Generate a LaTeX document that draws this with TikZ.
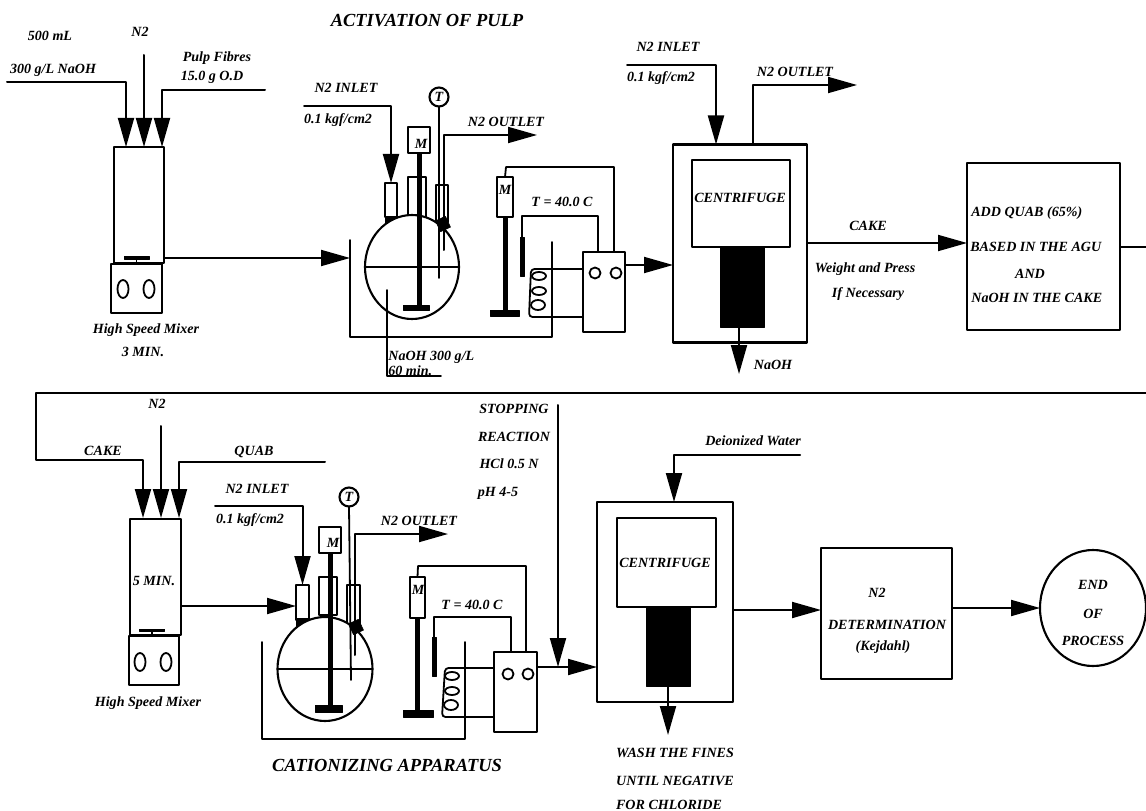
\documentclass[tikz,border=0pt]{standalone}
\usepackage{fontspec}
\setmainfont{Liberation Serif}[BoldItalicFont={Liberation Serif Bold Italic}]
\usetikzlibrary{arrows.meta,shapes.geometric}
\tikzset{
    every picture/.style={line cap=round,line join=round},
    lbl/.style={inner sep=0pt,font=\bfseries\itshape\fontsize{8}{9}\selectfont,align=center},
    biglbl/.style={inner sep=0pt,font=\bfseries\itshape\fontsize{10.5}{11}\selectfont,align=center},
    procbox/.style={draw=black,fill=white,line width=0.42mm,inner sep=0pt,outer sep=0pt},
    solidbox/.style={draw=black,fill=black,line width=0.1mm,inner sep=0pt,outer sep=0pt},
    wheel/.style={draw=black,fill=white,ellipse,line width=0.36mm,inner sep=0pt,
      minimum width=2.2mm,minimum height=3.6mm},
    wire/.style={draw=black,line width=0.36mm},
    shaftline/.style={draw=black,line width=1mm,line cap=butt},
    flowarrow/.style={-{Triangle[length=5.8mm,width=3.2mm]},draw=black,line width=0.4mm}
}
\begin{document}
\begin{tikzpicture}[x=0.2mm,y=-0.2mm]
  \useasboundingbox (0,0) rectangle (1146,811);
  \node[biglbl] (titleA) at (427,21) {ACTIVATION OF PULP};
  \node[lbl] (volA) at (50,36) {500 mL};
  \node[lbl] (nA) at (140,32) {N2};
  \node[lbl] (naohA) at (53,70) {300 g/L NaOH};
  \node[lbl] (pulpA) at (217,58) {Pulp Fibres};
  \node[lbl] (massA) at (212,77) {15.0 g O.D};
  \node[lbl] (hsmA) at (146,330) {High Speed Mixer};
  \node[lbl] (minA) at (143,352) {3 MIN.};

  \node[procbox,minimum width=10mm,minimum height=23.2mm] (mixA) at (139,205) {};
  \node[procbox,minimum width=10.2mm,minimum height=9.8mm] (baseA) at (136.5,288.5) {};
  \node[wheel] (wheelA) at (123,289) {};
  \node[wheel] (wheelB) at (149,289) {};
  \node[solidbox,minimum width=5mm,minimum height=0.6mm] (impA) at (136.5,258) {};
  \draw[wire] (impA) -- (impA |- baseA.north);
  \coordinate (naohAin) at (7,82);
  \coordinate (naohAend) at (126,147);
  \coordinate (nAin) at (144,55);
  \coordinate (nAend) at (144,147);
  \coordinate (pulpAin) at (265,90);
  \coordinate (pulpAend) at (162,147);
  \draw[flowarrow] (naohAin) -| (naohAend);
  \draw[flowarrow] (nAin) -- (nAend);
  \draw[flowarrow] (pulpAin) -| (pulpAend);

  \node[procbox,minimum width=2.4mm,minimum height=6.8mm] (neckAl) at (391,200) {};
  \node[procbox,minimum width=3.6mm,minimum height=8.4mm] (neckAm) at (417,198) {};
  \node[procbox,minimum width=2.4mm,minimum height=7.4mm] (neckAr) at (442,203.5) {};
  \node[solidbox,minimum width=2.4mm,minimum height=2.4mm] (baseAl) at (391,222) {};
  \node[procbox,ellipse,minimum width=18.8mm,minimum height=20.8mm] (flaskA) at (412,267) {};
  \node[solidbox,minimum width=2.2mm,minimum height=2.4mm,rotate=25] (baseAr) at (443,224) {};
  \draw[wire] (flaskA.west) -- (flaskA.east);
  \node[procbox,minimum width=4.4mm,minimum height=5.2mm] (motorA) at (419,140) {};
  \node[lbl] (mA) at (421,144) {M};
  \node[solidbox,minimum width=5.2mm,minimum height=1mm] (footA) at (416,307.5) {};
  \draw[shaftline] (motorA.south) -- (motorA.south |- footA.north);
  \node[procbox,circle,minimum size=3.8mm,font=\bfseries\itshape\fontsize{8}{9}\selectfont] (tA) at (439,97) {T};
  \coordinate (probeA) at (439,278);
  \draw[wire] (tA) -- (probeA);
  \coordinate (ventAin) at (444,250);
  \coordinate (ventAend) at (537,135);
  \draw[flowarrow] (ventAin) |- (ventAend);
  \coordinate (gasAin) at (304,106);
  \draw[flowarrow] (gasAin) -| (neckAl.north);
  \node[lbl] (gasAa) at (346,88) {N2 INLET};
  \node[lbl] (gasAb) at (338,120) {0.1 kgf/cm2};
  \node[lbl] (ventAa) at (506,122) {N2 OUTLET};

  \coordinate (bathA1) at (350,240);
  \coordinate (bathA2) at (350,337);
  \coordinate (bathA3) at (552,337);
  \coordinate (bathA4) at (552,242);
  \draw[wire] (bathA1) -- (bathA2) -- (bathA3) -- (bathA4);
  \coordinate (bathAin) at (350,258);
  \draw[flowarrow] (bathAin -| mixA.east) -- (bathAin);
  \coordinate (liqA1) at (387,290);
  \coordinate (liqA2) at (441,376);
  \draw[wire] (liqA1) |- (liqA2);
  \node[lbl,anchor=west] (liqAa) at (388,357) {NaOH 300 g/L};
  \node[lbl,anchor=west] (liqAb) at (388,371) {60 min.};

  \node[procbox,minimum width=3.2mm,minimum height=8mm] (stirA) at (505,197) {};
  \node[lbl] (mB) at (505,190) {M};
  \node[solidbox,minimum width=5.8mm,minimum height=1.2mm] (standA) at (504.5,313) {};
  \draw[shaftline] (stirA.south) -- (stirA.south |- standA.north);
  \node[procbox,minimum width=8.4mm,minimum height=16mm] (contA) at (604,292) {};
  \node[wheel,minimum height=2.2mm] (dialA) at (595,273) {};
  \node[wheel,minimum height=2.2mm] (dialB) at (616,273) {};
  \coordinate (contAt1) at (598,252);
  \coordinate (contAt2) at (614,252);
  \coordinate (stirAt) at (506,167);
  \draw[wire] (stirA.north) -- (stirAt) -| (contAt2);
  \node[solidbox,minimum width=0.8mm,minimum height=7.8mm] (senseA) at (522,256.5) {};
  \coordinate (senseAt) at (522,216);
  \draw[wire] (senseA.north) -- (senseAt) -| (contAt1);
  \node[lbl] (tempA) at (562,202) {T = 40.0 C};
  \coordinate (coilA1) at (583,269);
  \coordinate (coilA2) at (531,269);
  \coordinate (coilA3) at (529,317);
  \coordinate (coilA4) at (583,317);
  \draw[wire,rounded corners=2pt] (coilA1) -- (coilA2) -- (coilA3) -- (coilA4);
  \node[wheel,minimum width=2.8mm,minimum height=1.6mm] (loopA1) at (539,276) {};
  \node[wheel,minimum width=2.8mm,minimum height=1.6mm] (loopA2) at (539,291) {};
  \node[wheel,minimum width=2.8mm,minimum height=2mm] (loopA3) at (538,305) {};

  \node[procbox,minimum width=26.8mm,minimum height=39.6mm] (cenA) at (740,243.5) {};
  \node[procbox,minimum width=19.6mm,minimum height=17.4mm] (innerA) at (741,203.5) {};
  \node[solidbox,minimum width=8.8mm,minimum height=16mm] (blockA) at (742,287) {};
  \node[lbl] (cenAtxt) at (740,198) {CENTRIFUGE};
  \coordinate (dropAend) at (739,374);
  \draw[flowarrow] (dropAend |- blockA.south) -- (dropAend);
  \node[lbl] (dropAtxt) at (773,365) {NaOH};
  \coordinate (cenAin) at (673,265);
  \draw[flowarrow] (contA.east |- cenAin) -- (cenAin);
  \coordinate (gasBin) at (627,65);
  \coordinate (gasBend) at (716,144.5);
  \coordinate (ventBin) at (753,144.5);
  \coordinate (ventBend) at (857,85);
  \draw[flowarrow] (gasBin) -| (gasBend);
  \draw[flowarrow] (ventBin) |- (ventBend);
  \node[lbl] (gasBa) at (668,47) {N2 INLET};
  \node[lbl] (gasBb) at (661,78) {0.1 kgf/cm2};
  \node[lbl] (ventBa) at (795,72) {N2 OUTLET};

  \node[procbox,minimum width=30.6mm,minimum height=33.4mm] (addbox) at (1043.5,246.5) {};
  \coordinate (cakeout) at (807,243);
  \draw[flowarrow] (cakeout) -- (cakeout -| addbox.west);
  \node[lbl] (cakeA) at (868,226) {CAKE};
  \node[lbl] (weighA) at (865,269) {Weight and Press};
  \node[lbl] (weighB) at (868,294) {If Necessary};
  \node[lbl,anchor=west] (addA) at (971,213) {ADD QUAB (65\%)};
  \node[lbl,anchor=west] (addB) at (970,247) {BASED IN THE AGU};
  \node[lbl] (addC) at (1030,274) {AND};
  \node[lbl,anchor=west] (addD) at (971,298) {NaOH IN THE CAKE};

  \coordinate (loopEast) at (1146,247);
  \coordinate (loopTopE) at (1146,393);
  \coordinate (loopTopW) at (36,393);
  \coordinate (loopLow) at (36,460);
  \coordinate (cakeBend) at (143,518);
  \draw[wire] (addbox.east |- loopEast) -- (loopEast);
  \draw[flowarrow] (loopTopE) -- (loopTopW) -- (loopLow) -| (cakeBend);
  \coordinate (nBin) at (161,426);
  \coordinate (nBend) at (161,518);
  \coordinate (quabin) at (325,462);
  \coordinate (quabend) at (179,518);
  \draw[flowarrow] (nBin) -- (nBend);
  \draw[flowarrow] (quabin) -| (quabend);
  \node[lbl] (nB) at (157,404) {N2};
  \node[lbl] (cakeB) at (103,451) {CAKE};
  \node[lbl] (quabtxt) at (254,452) {QUAB};

  \node[procbox,minimum width=10.2mm,minimum height=23.2mm] (mixB) at (155.5,577) {};
  \node[procbox,minimum width=10mm,minimum height=9.8mm] (baseB) at (154,660.5) {};
  \node[wheel] (wheelC) at (140,662) {};
  \node[wheel] (wheelD) at (166,662) {};
  \node[solidbox,minimum width=5mm,minimum height=0.5mm] (impB) at (152,630) {};
  \draw[wire] (impB) -- (impB |- baseB.north);
  \node[lbl] (minB) at (154,581) {5 MIN.};
  \node[lbl] (hsmB) at (148,703) {High Speed Mixer};

  \node[procbox,minimum width=2.6mm,minimum height=7mm] (neckBl) at (302.5,602.5) {};
  \node[procbox,minimum width=3.6mm,minimum height=7.6mm] (neckBm) at (328,596) {};
  \node[procbox,minimum width=2.6mm,minimum height=8mm] (neckBr) at (353.5,605) {};
  \node[solidbox,minimum width=2.6mm,minimum height=2.4mm] (baseBl) at (302.5,624) {};
  \node[procbox,ellipse,minimum width=19mm,minimum height=20.8mm] (flaskB) at (325,669) {};
  \node[solidbox,minimum width=2.2mm,minimum height=2.4mm,rotate=25] (baseBr) at (356,627) {};
  \draw[wire] (flaskB.west) -- (flaskB.east);
  \node[procbox,minimum width=4.4mm,minimum height=5.2mm] (motorB) at (330,540) {};
  \node[lbl] (mC) at (333,543) {M};
  \node[solidbox,minimum width=5.4mm,minimum height=1.4mm] (footB) at (328.5,708.5) {};
  \draw[shaftline] (motorB.south) -- (motorB.south |- footB.north);
  \node[procbox,circle,minimum size=3.8mm,font=\bfseries\itshape\fontsize{8}{9}\selectfont] (tB) at (349,497) {T};
  \coordinate (probeB) at (351,680);
  \draw[wire] (tB.south) -- (probeB);
  \coordinate (ventCin) at (355,655);
  \coordinate (ventCend) at (448,534);
  \draw[flowarrow] (ventCin) |- (ventCend);
  \coordinate (gasCin) at (215,506);
  \draw[flowarrow] (gasCin) -| (neckBl.north);
  \node[lbl] (gasCa) at (257,489) {N2 INLET};
  \node[lbl] (gasCb) at (250,520) {0.1 kgf/cm2};
  \node[lbl] (ventCa) at (419,521) {N2 OUTLET};
  \coordinate (bathBin) at (296,606);
  \draw[flowarrow] (bathBin -| mixB.east) -- (bathBin);

  \coordinate (bathB1) at (262,642);
  \coordinate (bathB2) at (465,739);
  \coordinate (bathB3) at (465,642);
  \draw[wire] (bathB1) |- (bathB2) -- (bathB3);
  \node[biglbl] (titleB) at (387,765) {CATIONIZING APPARATUS};

  \node[procbox,minimum width=3mm,minimum height=8.2mm] (stirB) at (417.5,597.5) {};
  \node[lbl] (mD) at (418,590) {M};
  \node[solidbox,minimum width=6mm,minimum height=1.4mm] (standB) at (418,713.5) {};
  \draw[shaftline] (stirB.south) -- (stirB.south |- standB.north);
  \node[procbox,minimum width=8.6mm,minimum height=16mm] (contB) at (515.5,692) {};
  \node[wheel,minimum height=2.2mm] (dialC) at (508,674) {};
  \node[wheel,minimum height=2.2mm] (dialD) at (528,674) {};
  \coordinate (contBt1) at (511,652);
  \coordinate (contBt2) at (526,652);
  \coordinate (stirBt) at (418,566);
  \draw[wire] (stirB.north) -- (stirBt) -| (contBt2);
  \node[solidbox,minimum width=0.8mm,minimum height=7.8mm] (senseB) at (434,656.5) {};
  \coordinate (senseBt) at (434,617);
  \draw[wire] (senseB.north) -- (senseBt) -| (contBt1);
  \node[lbl] (tempB) at (472,605) {T = 40.0 C};
  \coordinate (coilB1) at (494,668);
  \coordinate (coilB2) at (445,668);
  \coordinate (coilB3) at (442,717);
  \coordinate (coilB4) at (494,717);
  \draw[wire,rounded corners=2pt] (coilB1) -- (coilB2) -- (coilB3) -- (coilB4);
  \node[wheel,minimum width=2.8mm,minimum height=1.6mm] (loopB1) at (452,676) {};
  \node[wheel,minimum width=2.8mm,minimum height=1.6mm] (loopB2) at (452,691) {};
  \node[wheel,minimum width=2.8mm,minimum height=2mm] (loopB3) at (451,705) {};

  \node[procbox,minimum width=27.2mm,minimum height=40mm] (cenB) at (665,602) {};
  \node[procbox,minimum width=19.8mm,minimum height=17.8mm] (innerB) at (666.5,562.5) {};
  \node[solidbox,minimum width=8.8mm,minimum height=15.8mm] (blockB) at (668,646.5) {};
  \node[lbl] (cenBtxt) at (665,563) {CENTRIFUGE};
  \coordinate (cenBin) at (597,667);
  \draw[flowarrow] (contB.east |- cenBin) -- (cenBin);
  \coordinate (stopin) at (558,405);
  \coordinate (stopend) at (558,667);
  \draw[flowarrow] (stopin) -- (stopend);
  \node[lbl] (stopA) at (514,409) {STOPPING};
  \node[lbl] (stopB) at (514,437) {REACTION};
  \node[lbl] (stopC) at (509,464) {HCl 0.5 N};
  \node[lbl] (stopD) at (498,493) {pH 4-5};
  \coordinate (waterin) at (800,455);
  \coordinate (waterend) at (674,502);
  \draw[flowarrow] (waterin) -| (waterend);
  \node[lbl] (watertxt) at (753,441) {Deionized Water};
  \coordinate (washend) at (668,735);
  \draw[flowarrow] (washend |- blockB.south) -- (washend);
  \node[lbl] (washA) at (675,753) {WASH THE FINES};
  \node[lbl] (washB) at (675,781) {UNTIL NEGATIVE};
  \node[lbl] (washC) at (669,805) {FOR CHLORIDE};

  \node[procbox,minimum width=26.2mm,minimum height=26.2mm] (detbox) at (886.5,613.5) {};
  \coordinate (detin) at (733,610);
  \draw[flowarrow] (detin) -- (detin -| detbox.west);
  \node[lbl] (detA) at (877,593) {N2};
  \node[lbl] (detB) at (887,625) {DETERMINATION};
  \node[lbl] (detC) at (883,647) {(Kejdahl)};
  \node[procbox,ellipse,minimum width=21.2mm,minimum height=23.2mm] (endnode) at (1093,608) {};
  \draw[flowarrow] (detbox.east |- endnode.west) -- (endnode.west);
  \node[lbl] (endA) at (1093,585) {END};
  \node[lbl] (endB) at (1093,614) {OF};
  \node[lbl] (endC) at (1093,641) {PROCESS};
\end{tikzpicture}
\end{document}
